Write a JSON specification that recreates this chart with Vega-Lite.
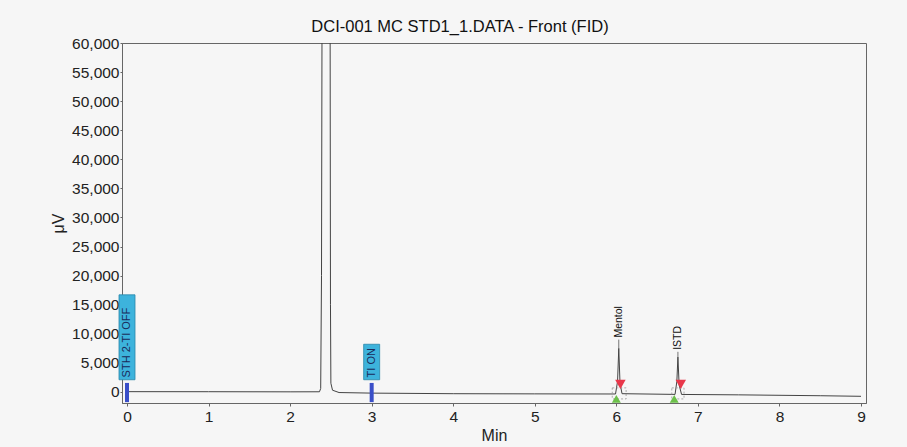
{
  "$schema": "https://vega.github.io/schema/vega-lite/v6.json",
  "width": 744,
  "height": 360,
  "autosize": {"type": "none"},
  "padding": {"left": 122, "top": 43, "right": 41, "bottom": 44},
  "background": "#f6f6f6",
  "title": {
    "text": "DCI-001 MC STD1_1.DATA - Front (FID)",
    "font": "Liberation Sans",
    "fontSize": 16.5,
    "fontWeight": "normal",
    "color": "#111",
    "anchor": "middle",
    "dx": -34,
    "offset": 1
  },
  "config": {
    "view": {"stroke": "#666", "strokeWidth": 1},
    "axis": {
      "labelFont": "Liberation Sans",
      "titleFont": "Liberation Sans",
      "labelFontSize": 15.5,
      "titleFontSize": 16,
      "titleFontWeight": "normal",
      "labelColor": "#222",
      "titleColor": "#222",
      "domainColor": "#666",
      "tickColor": "#666",
      "grid": false,
      "labelOverlap": false
    },
    "axisY": {"tickCount": 13, "format": ",d", "tickSize": 2, "labelPadding": 1, "titlePadding": 5},
    "axisX": {"tickCount": 10, "format": "d", "tickSize": 3, "labelPadding": 3, "titlePadding": 3}
  },
  "datasets": {
    "trace": [
      {"t": 0, "v": 50},
      {"t": 1.0, "v": 40},
      {"t": 2.0, "v": 20},
      {"t": 2.36, "v": 30},
      {"t": 2.375, "v": 600},
      {"t": 2.385, "v": 20000},
      {"t": 2.392, "v": 70000},
      {"t": 2.49, "v": 70000},
      {"t": 2.495, "v": 15000},
      {"t": 2.5, "v": 1500},
      {"t": 2.52, "v": 300},
      {"t": 2.6, "v": -100},
      {"t": 3.0, "v": -200},
      {"t": 4.0, "v": -300},
      {"t": 5.0, "v": -330},
      {"t": 5.99, "v": -350},
      {"t": 6.015, "v": 1800},
      {"t": 6.03, "v": 7500},
      {"t": 6.045, "v": 1500},
      {"t": 6.07, "v": -300},
      {"t": 6.72, "v": -420},
      {"t": 6.742, "v": 1800},
      {"t": 6.755, "v": 6000},
      {"t": 6.77, "v": 1200},
      {"t": 6.8, "v": -430},
      {"t": 7.5, "v": -500},
      {"t": 8.5, "v": -650},
      {"t": 9.0, "v": -750}
    ],
    "peaks": [
      {"name": "Mentol", "t": 6.03, "top": 7500, "lab": 9000, "t0": 5.95, "t1": 6.12, "tr": 6.05, "tg": 6.0},
      {"name": "ISTD", "t": 6.755, "top": 6000, "lab": 6900, "t0": 6.68, "t1": 6.83, "tr": 6.79, "tg": 6.71}
    ],
    "events": [
      {"name": "STH 2-TI OFF", "t": 0.0, "bot": 2100, "top": 16700, "txt": 2500},
      {"name": "TI ON", "t": 3.0, "bot": 2100, "top": 8200, "txt": 2500}
    ]
  },
  "layer": [
    {
      "data": {"name": "trace"},
      "mark": {"type": "line", "color": "#444", "strokeWidth": 1, "clip": true},
      "encoding": {
        "x": {
          "field": "t", "type": "quantitative",
          "scale": {"domain": [0, 9], "nice": false, "zero": false},
          "axis": {"title": "Min", "values": [0,1,2,3,4,5,6,7,8,9]}
        },
        "y": {
          "field": "v", "type": "quantitative",
          "scale": {"domain": [-1900, 60000], "nice": false, "zero": false},
          "axis": {"title": "μV", "values": [0,5000,10000,15000,20000,25000,30000,35000,40000,45000,50000,55000,60000]}
        }
      }
    },
    {
      "data": {"name": "peaks"},
      "mark": {"type": "rect", "fill": null, "stroke": "#999", "strokeWidth": 0.8, "strokeDash": [2, 2]},
      "encoding": {
        "x": {"field": "t0", "type": "quantitative"},
        "x2": {"field": "t1"},
        "y": {"datum": 700, "type": "quantitative"},
        "y2": {"datum": -1200}
      }
    },
    {
      "data": {"name": "peaks"},
      "mark": {"type": "rule", "color": "#555", "strokeWidth": 0.8},
      "encoding": {
        "x": {"field": "t", "type": "quantitative"},
        "y": {"field": "top", "type": "quantitative"},
        "y2": {"field": "lab"}
      }
    },
    {
      "data": {"name": "peaks"},
      "mark": {"type": "text", "angle": 270, "align": "left", "baseline": "middle", "font": "Liberation Sans", "fontSize": 10.5, "color": "#111", "dx": 2},
      "encoding": {
        "x": {"field": "t", "type": "quantitative"},
        "y": {"field": "lab", "type": "quantitative"},
        "text": {"field": "name"}
      }
    },
    {
      "data": {"name": "peaks"},
      "mark": {"type": "point", "shape": "triangle-down", "filled": true, "color": "#e8374a", "size": 110, "opacity": 1},
      "encoding": {
        "x": {"field": "tr", "type": "quantitative"},
        "y": {"datum": 1300, "type": "quantitative"}
      }
    },
    {
      "data": {"name": "peaks"},
      "mark": {"type": "point", "shape": "triangle-up", "filled": true, "color": "#6cc04a", "size": 80, "opacity": 1},
      "encoding": {
        "x": {"field": "tg", "type": "quantitative"},
        "y": {"datum": -1200, "type": "quantitative"}
      }
    },
    {
      "data": {"name": "events"},
      "mark": {"type": "bar", "size": 16, "color": "#3db3dc", "stroke": "#2a86a8", "strokeWidth": 0.8},
      "encoding": {
        "x": {"field": "t", "type": "quantitative"},
        "y": {"field": "bot", "type": "quantitative"},
        "y2": {"field": "top"}
      }
    },
    {
      "data": {"name": "events"},
      "mark": {"type": "rule", "color": "#3a4fc8", "strokeWidth": 4},
      "encoding": {
        "x": {"field": "t", "type": "quantitative"},
        "y": {"datum": 1550, "type": "quantitative"},
        "y2": {"datum": -1750}
      }
    },
    {
      "data": {"name": "events"},
      "mark": {"type": "text", "angle": 270, "align": "left", "baseline": "middle", "font": "Liberation Sans", "fontSize": 11, "color": "#1a2a5a"},
      "encoding": {
        "x": {"field": "t", "type": "quantitative"},
        "y": {"field": "txt", "type": "quantitative"},
        "text": {"field": "name"}
      }
    }
  ]
}
